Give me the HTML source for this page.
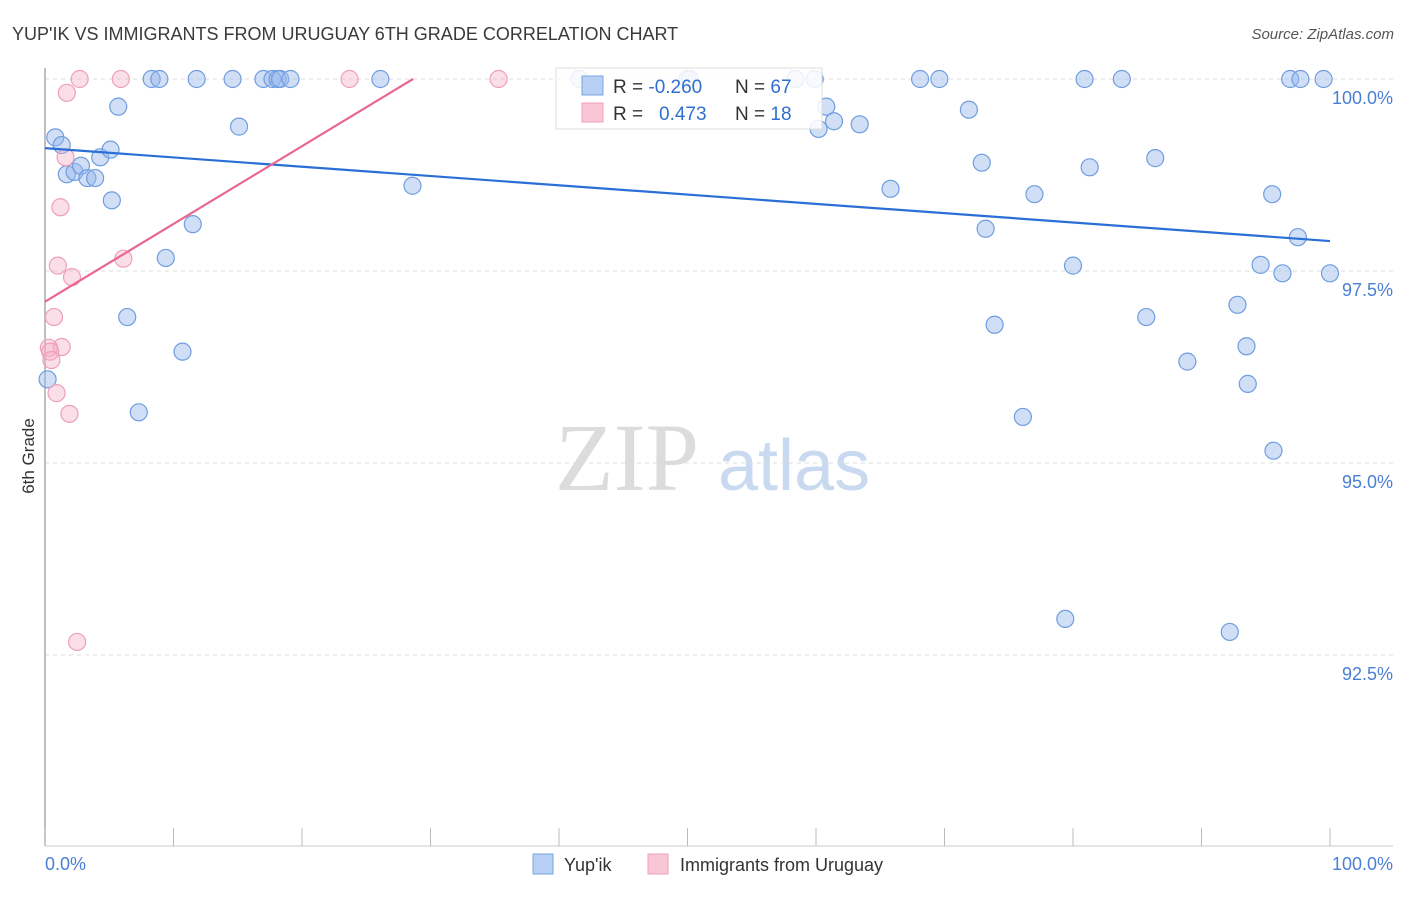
<!DOCTYPE html>
<html><head><meta charset="utf-8"><style>
body{margin:0;background:#fff;font-family:"Liberation Sans",sans-serif;}
svg text{font-family:"Liberation Sans",sans-serif;}
</style></head><body>
<svg id="chart" width="1406" height="892" xmlns="http://www.w3.org/2000/svg">
<text x="12" y="40" font-size="18" fill="#3a3a3a">YUP'IK VS IMMIGRANTS FROM URUGUAY 6TH GRADE CORRELATION CHART</text>
<text x="1394" y="39" font-size="15" fill="#555" text-anchor="end" font-style="italic">Source: ZipAtlas.com</text>
<g>
<text x="555" y="490" font-size="96" fill="#dcdcdc" font-family="Liberation Serif" style="font-family:'Liberation Serif',serif">ZIP</text>
<text x="718" y="490" font-size="72" fill="#c9daf0">atlas</text>
</g>
<g id="grid"></g>
<line x1="45" y1="68" x2="45" y2="846" stroke="#aaa" stroke-width="1.5"/>
<line x1="45" y1="846" x2="1393" y2="846" stroke="#ccc" stroke-width="1"/>
<g id="xticks"></g>
<text transform="translate(34,456) rotate(-90)" font-size="17" fill="#333" text-anchor="middle">6th Grade</text>
<text x="45" y="870" font-size="18" fill="#4a7fd4">0.0%</text>
<text x="1393" y="870" font-size="18" fill="#4a7fd4" text-anchor="end">100.0%</text>
<g id="points"></g>
<g id="lines"></g>
<g>
<rect x="556" y="68" width="266" height="61" fill="#fff" fill-opacity="0.85" stroke="#ddd"/>
<rect x="582" y="76" width="21" height="19" fill="#b6cff3" stroke="#7aa3e0"/>
<rect x="582" y="103" width="21" height="19" fill="#f9c6d5" stroke="#eea0b8"/>
<text x="613" y="93" font-size="19" fill="#333">R = <tspan fill="#2f6fd0">-0.260</tspan></text>
<text x="735" y="93" font-size="19" fill="#333">N = <tspan fill="#2f6fd0">67</tspan></text>
<text x="613" y="120" font-size="19" fill="#333">R = <tspan fill="#2f6fd0" x="659">0.473</tspan></text>
<text x="735" y="120" font-size="19" fill="#333">N = <tspan fill="#2f6fd0">18</tspan></text>
</g>
<g>
<rect x="533" y="854" width="20" height="20" fill="#b6cff3" stroke="#7aa3e0"/>
<text x="564" y="871" font-size="18" fill="#333">Yup'ik</text>
<rect x="648" y="854" width="20" height="20" fill="#f9c6d5" stroke="#eea0b8"/>
<text x="680" y="871" font-size="18" fill="#333">Immigrants from Uruguay</text>
</g>
</svg>
<script>
const yTicks=[100,97.5,95,92.5];
const yTickLabels=["100.0%","97.5%","95.0%","92.5%"];
const xTicks=[0,10,20,30,40,50,60,70,80,90,100];
const blueX=[0.8,1.3,1.7,2.3,2.8,3.3,3.9,4.3,5.1,5.2,5.7,6.4,7.3,8.3,8.9,9.4,10.7,11.5,11.8,14.6,15.1,17.0,17.7,18.1,18.3,19.1,26.1,28.6,41.6,50.0,50.2,58.4,59.9,60.2,60.8,61.4,63.4,65.8,68.1,69.6,71.9,72.9,73.2,73.9,76.1,77.0,79.4,80.0,80.9,81.3,83.8,85.7,86.4,88.9,92.2,92.8,93.5,93.6,94.6,95.5,95.6,96.3,96.9,97.5,97.7,99.5,100,0.2];
const blueY=[99.24,99.14,98.76,98.79,98.87,98.71,98.71,98.98,99.08,98.42,99.64,96.90,95.66,100,100,97.67,96.45,98.11,100,100,99.38,100,100,100,100,100,100,98.61,100,100,100,100,100,99.35,99.64,99.45,99.41,98.57,100,100,99.60,98.91,98.05,96.80,95.60,98.50,92.97,97.57,100,98.85,100,96.90,98.97,96.32,92.80,97.06,96.52,96.03,97.58,98.50,95.16,97.47,100,97.94,100,100,97.47,96.09];
const pinkX=[1.7,2.7,5.9,23.7,35.3,1.6,1.2,1.0,2.1,6.1,0.7,1.3,0.3,0.4,0.5,0.9,1.9,2.5];
const pinkY=[99.82,100,100,100,100,98.98,98.33,97.57,97.42,97.66,96.90,96.51,96.50,96.45,96.34,95.91,95.64,92.67];
const blueTrend=[99.10,97.89]; // y at x=0 and x=100
const pinkTrend=[97.10,100,28.64]; // y at x=0, y at end, end x
const NS="http://www.w3.org/2000/svg";
const X=v=>45+v*12.85, Y=v=>79+(100-v)*76.8;
function mk(t,a,p){const e=document.createElementNS(NS,t);for(const k in a)e.setAttribute(k,a[k]);p.appendChild(e);return e;}
const grid=document.getElementById('grid');
yTicks.forEach((t,i)=>{
 const l=mk('line',{x1:45,x2:1393,y1:Y(t),y2:Y(t),stroke:'#ddd','stroke-dasharray':'4,4'},grid);
 
 
 const tx=mk('text',{x:1393,y:Y(t)+25,'font-size':18,fill:'#4a7fd4','text-anchor':'end'},grid);
 tx.textContent=yTickLabels[i];
 
 
});
const xt=document.getElementById('xticks');
xTicks.forEach(t=>{
 const l=mk('line',{x1:X(t),x2:X(t),y1:828,y2:846,stroke:'#bbb'},xt);
 
 
});
const pts=document.getElementById('points');
blueX.forEach((v,i)=>{
 const c=mk('circle',{cx:X(v),cy:Y(blueY[i]),r:8.5,fill:'rgba(150,185,235,0.45)',stroke:'#6f9de0','stroke-width':1.2},pts);
 
 
});
pinkX.forEach((v,i)=>{
 const c=mk('circle',{cx:X(v),cy:Y(pinkY[i]),r:8.5,fill:'rgba(245,175,198,0.4)',stroke:'#ee9fb8','stroke-width':1.2},pts);
 
 
});
const ln=document.getElementById('lines');
const b=mk('line',{x1:X(0),y1:Y(blueTrend[0]),x2:X(100),y2:Y(blueTrend[1]),stroke:'#2a6fd6','stroke-width':2.2},ln);


const p=mk('line',{x1:X(0),y1:Y(pinkTrend[0]),x2:X(pinkTrend[2]),y2:Y(pinkTrend[1]),stroke:'#e8668f','stroke-width':2.2},ln);


</script>
</body></html>
